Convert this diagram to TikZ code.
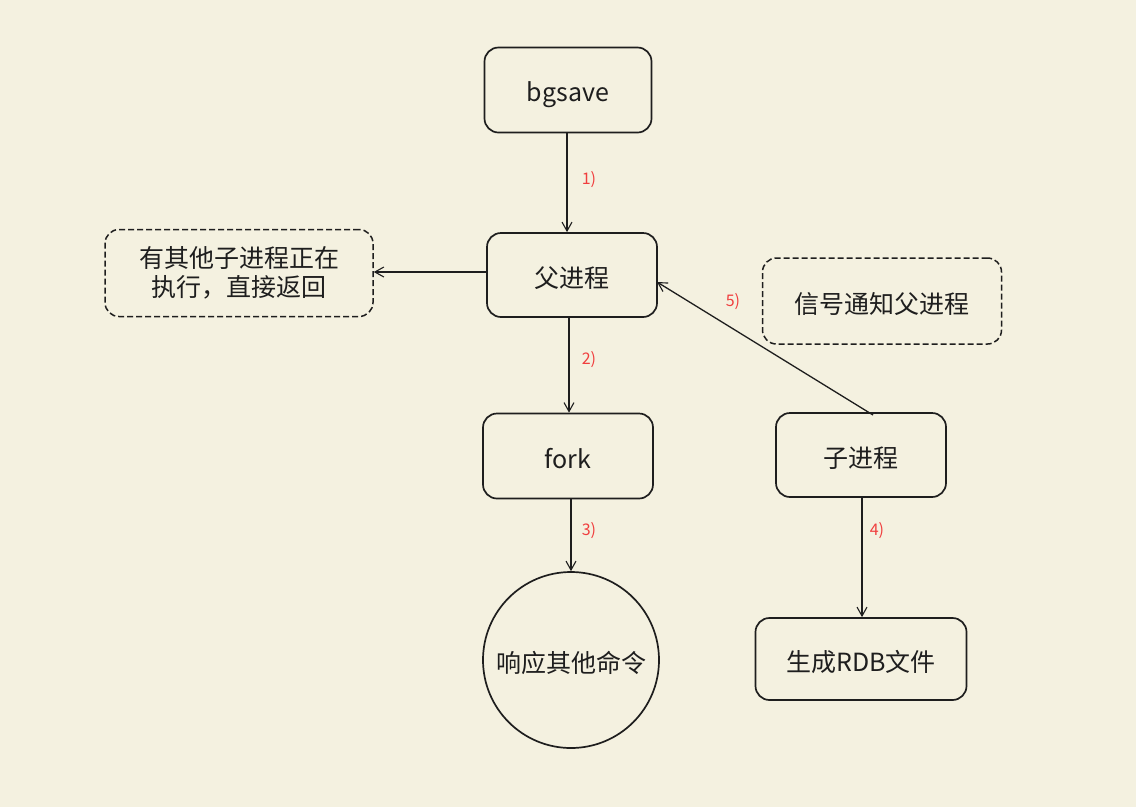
\documentclass[tikz,border=0pt]{standalone}
\usepackage{fontspec}
\setmainfont{Noto Sans CJK SC}
\usetikzlibrary{arrows.meta}
\definecolor{bg}{HTML}{F4F1E0}
\definecolor{ink}{HTML}{1E1E1E}
\definecolor{lbl}{HTML}{F03E3E}
\newcommand{\lowtext}[1]{\raisebox{-3pt}[\height][\depth]{#1}}
\tikzset{
  box/.style={draw=ink, line width=1.7pt, rounded corners=14pt, inner sep=0pt, font=\fontsize{25}{32}\selectfont, text=ink},
  dbox/.style={box, dashed, dash pattern=on 6pt off 3pt, line width=1.5pt},
  conn/.style={draw=ink, line width=1.3pt, -{Straight Barb[length=9pt,width=10pt,line width=1.1pt]}},
  lab/.style={text=lbl, font=\fontsize{16}{18}\selectfont}
}
\begin{document}
\begin{tikzpicture}[x=1pt,y=-1pt]
\fill[bg] (0,0) rectangle (1136,807);
\useasboundingbox (0,0) rectangle (1136,807);

\node[box, minimum width=167pt, minimum height=85pt] (bg) at (568,90) {\raisebox{-5pt}[\height][\depth]{bgsave}};
\node[box, minimum width=170pt, minimum height=84pt] (fp) at (572,275) {\lowtext{父进程}};
\node[box, minimum width=170pt, minimum height=85pt] (fork) at (568,456) {\lowtext{fork}};
\node[draw=ink, line width=1.7pt, circle, minimum size=176pt, inner sep=0pt, font=\fontsize{25}{32}\selectfont, text=ink] (resp) at (571,660) {\lowtext{响应其他命令}};
\node[box, minimum width=170pt, minimum height=84pt] (child) at (861,455) {\lowtext{子进程}};
\node[box, minimum width=211pt, minimum height=82pt] (rdb) at (861,659) {\lowtext{生成RDB文件}};
\node[dbox, minimum width=268pt, minimum height=87pt, align=center] (busy) at (239,273) {\raisebox{-3pt}[\height][\depth]{\begin{tabular}{@{}c@{}}有其他子进程正在\\[-3pt]执行，直接返回\end{tabular}}};
\node[dbox, minimum width=239pt, minimum height=86pt] (sig) at (882,301) {\lowtext{信号通知父进程}};

\draw[conn] (bg.south -| 567,0) -- (fp.north -| 567,0);
\draw[conn] (fp.west |- 0,272) -- (busy.east |- 0,272);
\draw[conn] (fp.south -| 569,0) -- (fork.north -| 569,0);
\draw[conn] (fork.south -| 571,0) -- (resp.north);
\draw[conn] (child.south -| 862,0) -- (rdb.north -| 862,0);
\coordinate (c5) at (873,415);
\coordinate (p5) at (657,282);
\draw[conn] (c5) -- (p5);

\node[lab] (l1) at (589,180) {1)};
\node[lab] (l2) at (589,360) {2)};
\node[lab] (l3) at (589,531) {3)};
\node[lab] (l4) at (877,531) {4)};
\node[lab] (l5) at (733,302) {5)};
\end{tikzpicture}
\end{document}
